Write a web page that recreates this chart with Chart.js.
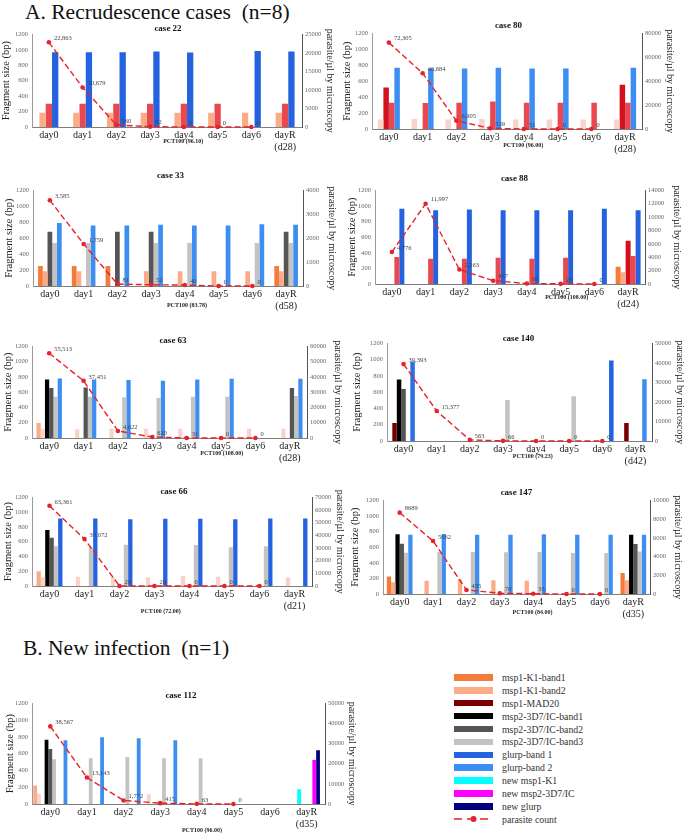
<!DOCTYPE html>
<html lang="en">
<head>
<meta charset="UTF-8" />
<title>Recrudescence and new infection cases</title>
<script src="https://cdn.jsdelivr.net/npm/chart.js"></script>
<style>
	body { margin: 0; background: #fff; font-family: "Liberation Serif", "DejaVu Serif", "Times New Roman", serif; }
	#page { position: relative; width: 685px; height: 833px; overflow: hidden; }
	.section { position: absolute; font-size: 21.5px; line-height: 24px; color: #111; white-space: pre; }
	canvas { position: absolute; }
	#legend { position: absolute; left: 454px; top: 671px; font-size: 9.8px; color: #333; }
	.row { height: 12.9px; display: flex; align-items: center; }
	.sw { width: 39px; height: 6.5px; margin-right: 9px; }
</style>
</head>
<body>
<div id="page">
	<div class="section" style="left:25px; top:0px">A. Recrudescence cases  (n=8)</div>
	<div class="section" style="left:23px; top:636px">B. New infection  (n=1)</div>
	<div id="legend"></div>
</div>

<script>
const days = ["day0", "day1", "day2", "day3", "day4", "day5", "day6", "dayR"];

// case 22
const c22Count = [22863, 10679, 560, 92, 0, 0, 0, null];
const c22K1b2 = [185, 185, 185, 185, 185, 185, 185, 185];
const c22Red = [300, 300, 300, 300, 300, 300, null, 300];
const c22Glurp1 = [970, 970, 970, 980, 965, null, 985, 980];

// case 80
const c80Count = [72305, 46684, 6905, 539, 51, 0, 0, null];
const c80Pink = [120, 125, 120, 125, 120, 120, 120, 120];
const c80Crimson = [520, null, null, null, null, null, null, 555];
const c80Red = [330, 325, 330, 345, 330, 330, 330, 330];
const c80Glurp2 = [770, 760, 760, 770, 760, 760, null, 770];

// case 33
const c33Count = [3585, 1759, 81, 52, 40, 0, 0, null];
const c33K1b1 = [250, 250, 250, null, null, null, null, 250];
const c33K1b2 = [185, 185, null, 185, 185, 185, 185, 185];
const c33Msp2b2 = [680, null, 680, 680, null, null, null, 680];
const c33Msp2b3 = [540, 540, null, 540, 540, null, 540, 540];
const c33Glurp2 = [790, 760, 760, 770, 760, 760, 775, 770];

// case 88
const c88Count = [4776, 11997, 2163, 497, 68, 23, 0, null];
const c88K1b1 = [null, null, null, null, null, null, null, 220];
const c88K1b2 = [null, null, null, null, null, null, null, 150];
const c88Crimson = [null, null, null, null, null, null, null, 555];
const c88Red = [345, 325, 325, 335, 325, 335, null, 360];
const c88Glurp1 = [965, 945, 955, 945, 945, 945, 965, 945];

// case 63
const c63Count = [55513, 37451, 4622, 620, 31, 0, 0, null];
const c63K1b2 = [195, null, null, null, null, null, null, null];
const c63Pink = [120, 115, 120, 120, 120, null, 120, 120];
const c63Msp2b1 = [765, null, null, null, null, null, null, null];
const c63Msp2b2 = [655, 660, null, null, null, null, null, 655];
const c63Msp2b3 = [540, 540, 535, 525, 540, 540, null, 550];
const c63Glurp2 = [780, 765, 760, 750, 765, 775, null, 775];

// case 140
const c140Count = [39393, 15377, 563, 66, 0, 0, 0, null];
const c140Mad20 = [220, null, null, null, null, null, null, 220];
const c140Msp2b1 = [755, null, null, null, null, null, null, null];
const c140Msp2b2 = [640, null, null, null, null, null, null, null];
const c140Msp2b3 = [null, null, null, 505, null, 550, null, null];
const c140Glurp = [975, null, null, null, null, null, 990, 760];

// case 66
const c66Count = [63361, 37072, 29, 20, 0, 0, 0, null];
const c66K1b2 = [200, null, null, null, null, null, null, null];
const c66Pink = [120, 125, 120, 120, 135, 125, null, 120];
const c66Msp2b1 = [760, null, null, null, null, null, null, null];
const c66Msp2b2 = [655, null, null, null, null, null, null, null];
const c66Msp2b3 = [540, 520, 560, null, 555, 525, 540, null];
const c66Glurp1 = [915, 915, 905, 910, 910, 905, 915, 915];

// case 147
const c147Count = [8689, 5662, 435, 78, 33, 0, 0, null];
const c147K1b1 = [225, null, null, null, null, null, null, 270];
const c147K1b2 = [150, 170, 185, 175, 170, null, null, 175];
const c147Msp2b1 = [765, null, null, null, null, null, null, 760];
const c147Msp2b2 = [645, null, null, null, null, null, null, 640];
const c147Msp2b3 = [530, 540, 540, 535, 540, 525, 525, 545];
const c147Glurp2 = [760, 770, 760, 760, 765, 760, 760, 760];

// case 112 (new infection)
const c112Count = [38567, 13143, 1772, 415, 63, 0, null, null];
const c112K1b2 = [220, null, null, null, null, null, null, null];
const c112Pink = [125, null, null, 115, null, null, null, null];
const c112NewK1 = [null, null, null, null, null, null, null, 175];
const c112Msp2b1 = [765, null, null, null, null, null, null, null];
const c112Msp2b2 = [655, null, null, null, null, null, null, null];
const c112Msp2b3 = [535, 545, 560, 545, 545, null, null, null];
const c112NewMsp2 = [null, null, null, null, null, null, null, 525];
const c112NewGlurp = [null, null, null, null, null, null, null, 640];
const c112Glurp2 = [760, 795, 785, 760, null, null, null, null];

const SERIF = "'Liberation Serif', 'DejaVu Serif', 'Times New Roman', serif";

const colors = {
	k1b1: "#F47B3B", k1b2: "#FBAB86", mad20: "#7A0000",
	m2b1: "#000000", m2b2: "#555555", m2b3: "#C3C3C3",
	g1: "#2462DF", g2: "#3C8EF2",
	newK1: "#00FFFF", newM2: "#FF00FF", newG: "#00007F",
	red: "#EA4850", crimson: "#D3101E", pink: "#F8D3CB",
	count: "#E4232A"
};

const legendItems = [
	["msp1-K1-band1", colors.k1b1], ["msp1-K1-band2", colors.k1b2], ["msp1-MAD20", colors.mad20],
	["msp2-3D7/IC-band1", colors.m2b1], ["msp2-3D7/IC-band2", colors.m2b2], ["msp2-3D7/IC-band3", colors.m2b3],
	["glurp-band 1", colors.g1], ["glurp-band 2", colors.g2], ["new msp1-K1", colors.newK1],
	["new msp2-3D7/IC", colors.newM2], ["new glurp", colors.newG], ["parasite count", null]
];

// area = plot rectangle on the page [left, right, top, bottom]
const panels = [
	{ title: "case 22", area: [32, 302, 34, 127], wl: 32, wr: 34, gap: 6, max: 25000, step: 5000, ret: "d28",
		pct: "96.10", noteX: 0.56, noteY: 14, catPct: 0.56, commas: true, count: c22Count,
		bars: [["k1b2", c22K1b2], ["red", c22Red], ["g1", c22Glurp1]] },
	{ title: "case 80", area: [372, 642, 33, 129], wl: 31, wr: 34, gap: 8, max: 80000, step: 20000, ret: "d28",
		pct: "96.00", noteX: 0.56, noteY: 16, catPct: 0.65, commas: true, count: c80Count,
		bars: [["pink", c80Pink], ["crimson", c80Crimson], ["red", c80Red], ["g2", c80Glurp2]] },
	{ title: "case 33", area: [33, 303, 190, 286], wl: 30, wr: 35, gap: 15, max: 4000, step: 1000, ret: "d58",
		pct: "83.78", noteX: 0.57, noteY: 19, catPct: 0.7, commas: true, count: c33Count,
		bars: [["k1b1", c33K1b1], ["k1b2", c33K1b2], ["m2b2", c33Msp2b2], ["m2b3", c33Msp2b3], ["g2", c33Glurp2]] },
	{ title: "case 88", area: [375, 645, 190, 284], wl: 29, wr: 38, gap: 12, max: 14000, step: 2000, ret: "d24",
		pct: "108.00", noteX: 0.71, noteY: 13, catPct: 0.74, commas: true, count: c88Count,
		bars: [["k1b1", c88K1b1], ["k1b2", c88K1b2], ["crimson", c88Crimson], ["red", c88Red], ["g1", c88Glurp1]] },
	{ title: "case 63", area: [32, 307, 346, 438], wl: 30, wr: 37, gap: 6, max: 60000, step: 10000, ret: "d28",
		pct: "108.00", noteX: 0.69, noteY: 15, catPct: 0.74, commas: true, count: c63Count,
		bars: [["k1b2", c63K1b2], ["pink", c63Pink], ["m2b1", c63Msp2b1], ["m2b2", c63Msp2b2], ["m2b3", c63Msp2b3], ["g2", c63Glurp2]] },
	{ title: "case 140", area: [387, 652, 343, 441], wl: 36, wr: 34, gap: 5, max: 50000, step: 10000, ret: "d42",
		pct: "79.23", noteX: 0.55, noteY: 15, catPct: 0.68, commas: true, count: c140Count,
		bars: [["mad20", c140Mad20], ["m2b1", c140Msp2b1], ["m2b2", c140Msp2b2], ["m2b3", c140Msp2b3],
			["g1", c140Glurp, ["#2F6FE6", null, null, null, null, null, colors.g1, colors.g2]]] },
	{ title: "case 66", area: [32, 312, 497, 586], wl: 30, wr: 34, gap: 6, max: 70000, step: 10000, ret: "d21",
		pct: "72.00", noteX: 0.46, noteY: 25, catPct: 0.74, commas: true, count: c66Count,
		bars: [["k1b2", c66K1b2], ["pink", c66Pink], ["m2b1", c66Msp2b1], ["m2b2", c66Msp2b2], ["m2b3", c66Msp2b3], ["g1", c66Glurp1]] },
	{ title: "case 147", area: [383, 650, 500, 594], wl: 34, wr: 34, gap: 8, max: 10000, step: 2000, ret: "d35",
		pct: "84.00", noteX: 0.56, noteY: 18, catPct: 0.77, commas: false, count: c147Count,
		bars: [["k1b1", c147K1b1], ["k1b2", c147K1b2], ["m2b1", c147Msp2b1], ["m2b2", c147Msp2b2], ["m2b3", c147Msp2b3], ["g2", c147Glurp2]] },
	{ title: "case 112", area: [32, 325, 703, 804], wl: 28, wr: 33, gap: 8, max: 50000, step: 10000, ret: "d35",
		pct: "96.00", noteX: 0.58, noteY: 26, catPct: 0.93, commas: true, count: c112Count,
		bars: [["k1b2", c112K1b2], ["pink", c112Pink], ["newK1", c112NewK1], ["m2b1", c112Msp2b1], ["m2b2", c112Msp2b2],
			["m2b3", c112Msp2b3], ["newM2", c112NewMsp2], ["newG", c112NewGlurp], ["g2", c112Glurp2]] }
];

// number next to each parasite-count point
const pointLabels = {
	id: "pointLabels",
	afterDatasetsDraw(chart, args, opts) {
		const ctx = chart.ctx;
		chart.data.datasets.forEach((d, i) => {
			if (d.type !== "line") return;
			chart.getDatasetMeta(i).data.forEach((pt, j) => {
				const v = d.data[j];
				if (v == null) return;
				const txt = opts.commas ? v.toLocaleString("en-US") : String(v);
				ctx.save();
				ctx.font = "6.5px " + SERIF;
				ctx.fillStyle = "#444";
				ctx.textBaseline = "middle";
				ctx.fillText(txt, pt.x + 5, pt.y - 4);
				ctx.restore();
			});
		});
	}
};

// small "PCT100 (...)" note under the axis
const axisNote = {
	id: "axisNote",
	afterDraw(chart, args, opts) {
		const a = chart.chartArea;
		const ctx = chart.ctx;
		ctx.save();
		ctx.font = "bold 6px " + SERIF;
		ctx.fillStyle = "#222";
		ctx.textAlign = "center";
		ctx.textBaseline = "middle";
		ctx.fillText(opts.text, a.left + opts.fx * (a.right - a.left), a.bottom + opts.dy);
		ctx.restore();
	}
};

Chart.defaults.font.family = SERIF;

const page = document.getElementById("page");

panels.forEach((p) => {
	const [L, R, T, B] = p.area;
	const left = L - p.wl;
	const width = R + p.wr - left;
	const top = T - p.gap - 5.4;
	const height = B + 32 - top;

	const canvas = document.createElement("canvas");
	canvas.width = width;
	canvas.height = height;
	canvas.style.left = left + "px";
	canvas.style.top = top + "px";
	page.appendChild(canvas);

	const labels = days.slice(0, 7).concat([["dayR", "(" + p.ret + ")"]]);

	const datasets = p.bars.map(([key, values, perBar]) => ({
		type: "bar",
		label: key,
		data: values,
		backgroundColor: perBar || colors[key],
		yAxisID: "y",
		order: 1
	}));
	datasets.push({
		type: "line",
		label: "parasite count",
		data: p.count,
		yAxisID: "y1",
		borderColor: colors.count,
		backgroundColor: colors.count,
		borderWidth: 1.4,
		borderDash: [6, 3],
		pointRadius: 2.3,
		pointBorderWidth: 0,
		clip: false,
		order: 0
	});

	new Chart(canvas, {
		data: { labels: labels, datasets: datasets },
		plugins: [pointLabels, axisNote],
		options: {
			responsive: false,
			animation: false,
			layout: { padding: 0 },
			datasets: { bar: { categoryPercentage: p.catPct, barPercentage: 1 } },
			plugins: {
				legend: { display: false },
				tooltip: { enabled: false },
				title: {
					display: true,
					text: p.title,
					color: "#111",
					font: { family: SERIF, size: 9, weight: "bold", lineHeight: 1.2 },
					padding: { top: 0, bottom: p.gap - 5.4 }
				},
				pointLabels: { commas: p.commas },
				axisNote: { text: "PCT100 (" + p.pct + ")", fx: p.noteX, dy: p.noteY }
			},
			scales: {
				x: {
					offset: true,
					grid: { display: false, drawTicks: false },
					border: { display: true, color: "#7f7f7f" },
					ticks: { color: "#222", font: { family: SERIF, size: 10 }, padding: 2, maxRotation: 0, autoSkip: false },
					afterFit: (s) => { s.height = 32; }
				},
				y: {
					position: "left",
					min: 0,
					max: 1200,
					grid: { display: false, drawTicks: false },
					border: { display: true, color: "#9a9a9a" },
					ticks: { stepSize: 200, color: "#666", font: { family: SERIF, size: 6.5 }, padding: 4, callback: (v) => String(v) },
					title: { display: true, text: "Fragment size (bp)", color: "#222", font: { family: SERIF, size: 10.5 }, padding: 0 },
					afterFit: (s) => { s.width = p.wl; }
				},
				y1: {
					position: "right",
					min: 0,
					max: p.max,
					grid: { display: false, drawTicks: false },
					border: { display: true, color: "#555" },
					ticks: { stepSize: p.step, color: "#666", font: { family: SERIF, size: 6.5 }, padding: 3, callback: (v) => String(v) },
					title: { display: true, text: "parasite/µl by microscopy", color: "#222", font: { family: SERIF, size: 10 }, padding: 0 },
					afterFit: (s) => { s.width = p.wr; }
				}
			}
		}
	});
});

// legend for the whole figure
const legend = document.getElementById("legend");
legendItems.forEach(([name, color]) => {
	const row = document.createElement("div");
	row.className = "row";
	if (color) {
		row.innerHTML = '<div class="sw" style="background:' + color + '"></div><span>' + name + "</span>";
	} else {
		row.innerHTML =
			'<svg width="39" height="8" style="margin-right:9px"><line x1="0" y1="4" x2="39" y2="4" stroke="' +
			colors.count + '" stroke-width="1.4" stroke-dasharray="8,5"/><circle cx="19.5" cy="4" r="3" fill="' +
			colors.count + '"/></svg><span>' + name + "</span>";
	}
	legend.appendChild(row);
});
</script>
</body>
</html>
